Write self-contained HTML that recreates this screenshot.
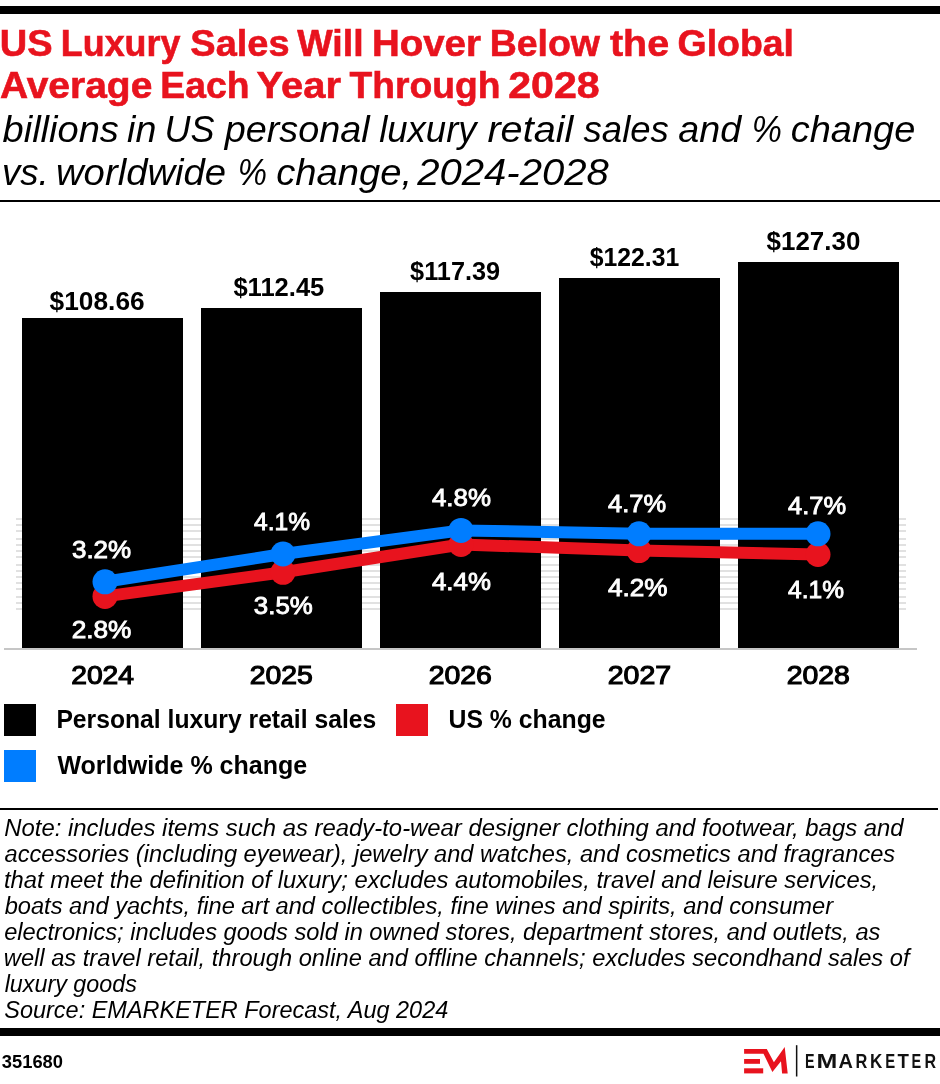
<!DOCTYPE html>
<html><head><meta charset="utf-8"><title>US Luxury Sales Will Hover Below the Global Average Each Year Through 2028</title>
<style>
html,body{margin:0;padding:0;background:#fff;}
body{width:940px;height:1084px;overflow:hidden;}
svg{display:block;font-family:"Liberation Sans", sans-serif;will-change:transform;}
</style></head><body>
<svg width="940" height="1084" viewBox="0 0 940 1084">
<rect width="940" height="1084" fill="#fff"/>
<rect x="0" y="6" width="940" height="8" fill="#000"/>
<text x="-0.28" y="55.80" font-size="37" font-weight="bold" font-style="normal" fill="#e8131e" textLength="52.77" lengthAdjust="spacingAndGlyphs" stroke="#e8131e" stroke-width="0.6">US</text>
<text x="60.87" y="55.80" font-size="37" font-weight="bold" font-style="normal" fill="#e8131e" textLength="119.47" lengthAdjust="spacingAndGlyphs" stroke="#e8131e" stroke-width="0.6">Luxury</text>
<text x="190.36" y="55.80" font-size="37" font-weight="bold" font-style="normal" fill="#e8131e" textLength="99.18" lengthAdjust="spacingAndGlyphs" stroke="#e8131e" stroke-width="0.6">Sales</text>
<text x="297.20" y="55.80" font-size="37" font-weight="bold" font-style="normal" fill="#e8131e" textLength="66.37" lengthAdjust="spacingAndGlyphs" stroke="#e8131e" stroke-width="0.6">Will</text>
<text x="372.00" y="55.80" font-size="37" font-weight="bold" font-style="normal" fill="#e8131e" textLength="108.96" lengthAdjust="spacingAndGlyphs" stroke="#e8131e" stroke-width="0.6">Hover</text>
<text x="489.66" y="55.80" font-size="37" font-weight="bold" font-style="normal" fill="#e8131e" textLength="110.33" lengthAdjust="spacingAndGlyphs" stroke="#e8131e" stroke-width="0.6">Below</text>
<text x="610.01" y="55.80" font-size="37" font-weight="bold" font-style="normal" fill="#e8131e" textLength="59.08" lengthAdjust="spacingAndGlyphs" stroke="#e8131e" stroke-width="0.6">the</text>
<text x="677.60" y="55.80" font-size="37" font-weight="bold" font-style="normal" fill="#e8131e" textLength="116.38" lengthAdjust="spacingAndGlyphs" stroke="#e8131e" stroke-width="0.6">Global</text>
<text x="0.03" y="97.90" font-size="37" font-weight="bold" font-style="normal" fill="#e8131e" textLength="152.33" lengthAdjust="spacingAndGlyphs" stroke="#e8131e" stroke-width="0.6">Average</text>
<text x="160.38" y="97.90" font-size="37" font-weight="bold" font-style="normal" fill="#e8131e" textLength="89.07" lengthAdjust="spacingAndGlyphs" stroke="#e8131e" stroke-width="0.6">Each</text>
<text x="256.60" y="97.90" font-size="37" font-weight="bold" font-style="normal" fill="#e8131e" textLength="84.33" lengthAdjust="spacingAndGlyphs" stroke="#e8131e" stroke-width="0.6">Year</text>
<text x="349.63" y="97.90" font-size="37" font-weight="bold" font-style="normal" fill="#e8131e" textLength="150.88" lengthAdjust="spacingAndGlyphs" stroke="#e8131e" stroke-width="0.6">Through</text>
<text x="508.16" y="97.90" font-size="37" font-weight="bold" font-style="normal" fill="#e8131e" textLength="91.56" lengthAdjust="spacingAndGlyphs" stroke="#e8131e" stroke-width="0.6">2028</text>
<text x="2.53" y="142.30" font-size="36.7" font-weight="normal" font-style="italic" fill="#000" textLength="116.32" lengthAdjust="spacingAndGlyphs" >billions</text>
<text x="127.04" y="142.30" font-size="36.7" font-weight="normal" font-style="italic" fill="#000" textLength="29.28" lengthAdjust="spacingAndGlyphs" >in</text>
<text x="164.50" y="142.30" font-size="36.7" font-weight="normal" font-style="italic" fill="#000" textLength="50.01" lengthAdjust="spacingAndGlyphs" >US</text>
<text x="224.74" y="142.30" font-size="36.7" font-weight="normal" font-style="italic" fill="#000" textLength="144.95" lengthAdjust="spacingAndGlyphs" >personal</text>
<text x="379.15" y="142.30" font-size="36.7" font-weight="normal" font-style="italic" fill="#000" textLength="97.43" lengthAdjust="spacingAndGlyphs" >luxury</text>
<text x="487.41" y="142.30" font-size="36.7" font-weight="normal" font-style="italic" fill="#000" textLength="85.91" lengthAdjust="spacingAndGlyphs" >retail</text>
<text x="583.62" y="142.30" font-size="36.7" font-weight="normal" font-style="italic" fill="#000" textLength="85.20" lengthAdjust="spacingAndGlyphs" >sales</text>
<text x="678.25" y="142.30" font-size="36.7" font-weight="normal" font-style="italic" fill="#000" textLength="62.86" lengthAdjust="spacingAndGlyphs" >and</text>
<text x="751.72" y="142.30" font-size="36.7" font-weight="normal" font-style="italic" fill="#000" textLength="30.17" lengthAdjust="spacingAndGlyphs" >%</text>
<text x="790.76" y="142.30" font-size="36.7" font-weight="normal" font-style="italic" fill="#000" textLength="124.60" lengthAdjust="spacingAndGlyphs" >change</text>
<text x="2.09" y="184.50" font-size="36.7" font-weight="normal" font-style="italic" fill="#000" textLength="46.70" lengthAdjust="spacingAndGlyphs" >vs.</text>
<text x="55.99" y="184.50" font-size="36.7" font-weight="normal" font-style="italic" fill="#000" textLength="170.11" lengthAdjust="spacingAndGlyphs" >worldwide</text>
<text x="237.70" y="184.50" font-size="36.7" font-weight="normal" font-style="italic" fill="#000" textLength="29.26" lengthAdjust="spacingAndGlyphs" >%</text>
<text x="276.25" y="184.50" font-size="36.7" font-weight="normal" font-style="italic" fill="#000" textLength="135.98" lengthAdjust="spacingAndGlyphs" >change,</text>
<text x="417.20" y="184.50" font-size="36.7" font-weight="normal" font-style="italic" fill="#000" textLength="191.60" lengthAdjust="spacingAndGlyphs" >2024-2028</text>
<rect x="0" y="200" width="940" height="2" fill="#000"/>
<rect x="16" y="518" width="890" height="2" fill="#e1e1e1"/>
<rect x="16" y="524" width="890" height="2" fill="#e1e1e1"/>
<rect x="16" y="530" width="890" height="2" fill="#e1e1e1"/>
<rect x="16" y="538" width="890" height="2" fill="#e1e1e1"/>
<rect x="16" y="544" width="890" height="2" fill="#e1e1e1"/>
<rect x="16" y="550" width="890" height="2" fill="#e1e1e1"/>
<rect x="16" y="556" width="890" height="2" fill="#e1e1e1"/>
<rect x="16" y="564" width="890" height="2" fill="#e1e1e1"/>
<rect x="16" y="570" width="890" height="2" fill="#e1e1e1"/>
<rect x="16" y="576" width="890" height="2" fill="#e1e1e1"/>
<rect x="16" y="582" width="890" height="2" fill="#e1e1e1"/>
<rect x="16" y="588" width="890" height="2" fill="#e1e1e1"/>
<rect x="16" y="596" width="890" height="2" fill="#e1e1e1"/>
<rect x="16" y="602" width="890" height="2" fill="#e1e1e1"/>
<rect x="16" y="608" width="890" height="2" fill="#e1e1e1"/>
<rect x="22" y="318" width="161" height="330" fill="#000"/>
<rect x="201" y="308" width="161" height="340" fill="#000"/>
<rect x="380" y="292" width="161" height="356" fill="#000"/>
<rect x="559" y="278" width="161" height="370" fill="#000"/>
<rect x="738" y="262" width="161" height="386" fill="#000"/>
<rect x="4" y="648" width="913" height="2" fill="#c6c6c6"/>
<text x="49.61" y="310.00" font-size="26" font-weight="bold" font-style="normal" fill="#000" textLength="95.01" lengthAdjust="spacingAndGlyphs" >$108.66</text>
<text x="233.42" y="296.20" font-size="26" font-weight="bold" font-style="normal" fill="#000" textLength="90.91" lengthAdjust="spacingAndGlyphs" >$112.45</text>
<text x="410.12" y="279.90" font-size="26" font-weight="bold" font-style="normal" fill="#000" textLength="90.06" lengthAdjust="spacingAndGlyphs" >$117.39</text>
<text x="589.63" y="266.20" font-size="26" font-weight="bold" font-style="normal" fill="#000" textLength="89.59" lengthAdjust="spacingAndGlyphs" >$122.31</text>
<text x="766.61" y="249.90" font-size="26" font-weight="bold" font-style="normal" fill="#000" textLength="93.72" lengthAdjust="spacingAndGlyphs" >$127.30</text>
<polyline points="105,596.4 283,572.3 461,544.5 639,550.6 818,554.5" fill="none" stroke="#e8131e" stroke-width="12" stroke-linejoin="round"/><circle cx="105" cy="596.4" r="12.5" fill="#e8131e"/><circle cx="283" cy="572.3" r="12.5" fill="#e8131e"/><circle cx="461" cy="544.5" r="12.5" fill="#e8131e"/><circle cx="639" cy="550.6" r="12.5" fill="#e8131e"/><circle cx="818" cy="554.5" r="12.5" fill="#e8131e"/>
<polyline points="105,581.8 283,554 461,530.4 639,533.8 818,533.8" fill="none" stroke="#007dff" stroke-width="12" stroke-linejoin="round"/><circle cx="105" cy="581.8" r="12.5" fill="#007dff"/><circle cx="283" cy="554" r="12.5" fill="#007dff"/><circle cx="461" cy="530.4" r="12.5" fill="#007dff"/><circle cx="639" cy="533.8" r="12.5" fill="#007dff"/><circle cx="818" cy="533.8" r="12.5" fill="#007dff"/>
<text x="71.96" y="558.00" font-size="24.3" font-weight="normal" font-style="normal" fill="#fff" textLength="59.23" lengthAdjust="spacingAndGlyphs" stroke="#fff" stroke-width="0.9">3.2%</text>
<text x="254.11" y="529.70" font-size="24.3" font-weight="normal" font-style="normal" fill="#fff" textLength="55.93" lengthAdjust="spacingAndGlyphs" stroke="#fff" stroke-width="0.9">4.1%</text>
<text x="431.98" y="505.80" font-size="24.3" font-weight="normal" font-style="normal" fill="#fff" textLength="59.01" lengthAdjust="spacingAndGlyphs" stroke="#fff" stroke-width="0.9">4.8%</text>
<text x="608.09" y="511.90" font-size="24.3" font-weight="normal" font-style="normal" fill="#fff" textLength="58.08" lengthAdjust="spacingAndGlyphs" stroke="#fff" stroke-width="0.9">4.7%</text>
<text x="788.09" y="514.00" font-size="24.3" font-weight="normal" font-style="normal" fill="#fff" textLength="58.08" lengthAdjust="spacingAndGlyphs" stroke="#fff" stroke-width="0.9">4.7%</text>
<text x="71.69" y="637.80" font-size="24.3" font-weight="normal" font-style="normal" fill="#fff" textLength="59.71" lengthAdjust="spacingAndGlyphs" stroke="#fff" stroke-width="0.9">2.8%</text>
<text x="253.87" y="613.80" font-size="24.3" font-weight="normal" font-style="normal" fill="#fff" textLength="58.92" lengthAdjust="spacingAndGlyphs" stroke="#fff" stroke-width="0.9">3.5%</text>
<text x="431.98" y="589.70" font-size="24.3" font-weight="normal" font-style="normal" fill="#fff" textLength="58.90" lengthAdjust="spacingAndGlyphs" stroke="#fff" stroke-width="0.9">4.4%</text>
<text x="608.08" y="595.80" font-size="24.3" font-weight="normal" font-style="normal" fill="#fff" textLength="59.52" lengthAdjust="spacingAndGlyphs" stroke="#fff" stroke-width="0.9">4.2%</text>
<text x="788.11" y="597.90" font-size="24.3" font-weight="normal" font-style="normal" fill="#fff" textLength="55.83" lengthAdjust="spacingAndGlyphs" stroke="#fff" stroke-width="0.9">4.1%</text>
<text x="71.19" y="684.00" font-size="25.2" font-weight="normal" font-style="normal" fill="#000" textLength="62.85" lengthAdjust="spacingAndGlyphs" stroke="#000" stroke-width="1.1">2024</text>
<text x="249.78" y="684.00" font-size="25.2" font-weight="normal" font-style="normal" fill="#000" textLength="63.15" lengthAdjust="spacingAndGlyphs" stroke="#000" stroke-width="1.1">2025</text>
<text x="428.78" y="684.00" font-size="25.2" font-weight="normal" font-style="normal" fill="#000" textLength="63.15" lengthAdjust="spacingAndGlyphs" stroke="#000" stroke-width="1.1">2026</text>
<text x="607.77" y="684.00" font-size="25.2" font-weight="normal" font-style="normal" fill="#000" textLength="63.44" lengthAdjust="spacingAndGlyphs" stroke="#000" stroke-width="1.1">2027</text>
<text x="786.78" y="684.00" font-size="25.2" font-weight="normal" font-style="normal" fill="#000" textLength="63.15" lengthAdjust="spacingAndGlyphs" stroke="#000" stroke-width="1.1">2028</text>
<rect x="4" y="704" width="32" height="32" fill="#000"/>
<rect x="396" y="704" width="32" height="32" fill="#e8131e"/>
<rect x="4" y="750" width="32" height="32" fill="#007dff"/>
<text x="56.39" y="727.90" font-size="26.6" font-weight="bold" font-style="normal" fill="#000" textLength="319.83" lengthAdjust="spacingAndGlyphs" >Personal luxury retail sales</text>
<text x="448.51" y="727.90" font-size="26.6" font-weight="bold" font-style="normal" fill="#000" textLength="157.16" lengthAdjust="spacingAndGlyphs" >US % change</text>
<text x="57.40" y="773.80" font-size="26.6" font-weight="bold" font-style="normal" fill="#000" textLength="249.85" lengthAdjust="spacingAndGlyphs" >Worldwide % change</text>
<rect x="0" y="808" width="938" height="2" fill="#000"/>
<text x="4.28" y="835.80" font-size="23.5" font-weight="normal" font-style="italic" fill="#000" textLength="899.27" lengthAdjust="spacingAndGlyphs" >Note: includes items such as ready-to-wear designer clothing and footwear, bags and</text>
<text x="4.53" y="861.80" font-size="23.5" font-weight="normal" font-style="italic" fill="#000" textLength="890.66" lengthAdjust="spacingAndGlyphs" >accessories (including eyewear), jewelry and watches, and cosmetics and fragrances</text>
<text x="3.93" y="887.80" font-size="23.5" font-weight="normal" font-style="italic" fill="#000" textLength="874.25" lengthAdjust="spacingAndGlyphs" >that meet the definition of luxury; excludes automobiles, travel and leisure services,</text>
<text x="4.65" y="913.80" font-size="23.5" font-weight="normal" font-style="italic" fill="#000" textLength="828.44" lengthAdjust="spacingAndGlyphs" >boats and yachts, fine art and collectibles, fine wines and spirits, and consumer</text>
<text x="4.17" y="939.80" font-size="23.5" font-weight="normal" font-style="italic" fill="#000" textLength="876.24" lengthAdjust="spacingAndGlyphs" >electronics; includes goods sold in owned stores, department stores, and outlets, as</text>
<text x="3.82" y="965.80" font-size="23.5" font-weight="normal" font-style="italic" fill="#000" textLength="905.70" lengthAdjust="spacingAndGlyphs" >well as travel retail, through online and offline channels; excludes secondhand sales of</text>
<text x="4.65" y="991.80" font-size="23.5" font-weight="normal" font-style="italic" fill="#000" textLength="132.22" lengthAdjust="spacingAndGlyphs" >luxury goods</text>
<text x="4.30" y="1017.80" font-size="23.5" font-weight="normal" font-style="italic" fill="#000" textLength="443.95" lengthAdjust="spacingAndGlyphs" >Source: EMARKETER Forecast, Aug 2024</text>
<rect x="0" y="1028" width="940" height="8" fill="#000"/>
<text x="1.84" y="1068.20" font-size="17.5" font-weight="bold" font-style="normal" fill="#000" textLength="61.13" lengthAdjust="spacingAndGlyphs" >351680</text>
<path d="M744.1,1048.9 L766.8,1048.9 L773.9,1062.3 L784.7,1047.1 L787.7,1073.4 L782.1,1073.4 L781.0,1061.2 L772.4,1072.0 L763.5,1053.8 L744.1,1053.8 Z" fill="#e8131e"/>
<rect x="744.1" y="1059" width="15.9" height="4.8" fill="#e8131e"/>
<rect x="744.1" y="1068.3" width="19.1" height="5.1" fill="#e8131e"/>
<rect x="795.9" y="1045.2" width="1.5" height="31.3" fill="#111"/>
<text x="805.07" y="1068.10" font-size="20.3" font-weight="bold" font-style="normal" fill="#111" textLength="9.56" lengthAdjust="spacingAndGlyphs" >E</text>
<text x="816.58" y="1068.10" font-size="20.3" font-weight="bold" font-style="normal" fill="#111" textLength="20.83" lengthAdjust="spacingAndGlyphs" >M</text>
<text x="838.60" y="1068.10" font-size="20.3" font-weight="bold" font-style="normal" fill="#111" textLength="14.44" lengthAdjust="spacingAndGlyphs" >A</text>
<text x="855.54" y="1068.10" font-size="20.3" font-weight="bold" font-style="normal" fill="#111" textLength="11.83" lengthAdjust="spacingAndGlyphs" >R</text>
<text x="870.09" y="1068.10" font-size="20.3" font-weight="bold" font-style="normal" fill="#111" textLength="12.32" lengthAdjust="spacingAndGlyphs" >K</text>
<text x="885.33" y="1068.10" font-size="20.3" font-weight="bold" font-style="normal" fill="#111" textLength="9.92" lengthAdjust="spacingAndGlyphs" >E</text>
<text x="897.41" y="1068.10" font-size="20.3" font-weight="bold" font-style="normal" fill="#111" textLength="11.39" lengthAdjust="spacingAndGlyphs" >T</text>
<text x="911.56" y="1068.10" font-size="20.3" font-weight="bold" font-style="normal" fill="#111" textLength="9.68" lengthAdjust="spacingAndGlyphs" >E</text>
<text x="924.56" y="1068.10" font-size="20.3" font-weight="bold" font-style="normal" fill="#111" textLength="11.60" lengthAdjust="spacingAndGlyphs" >R</text>
</svg>
</body></html>
